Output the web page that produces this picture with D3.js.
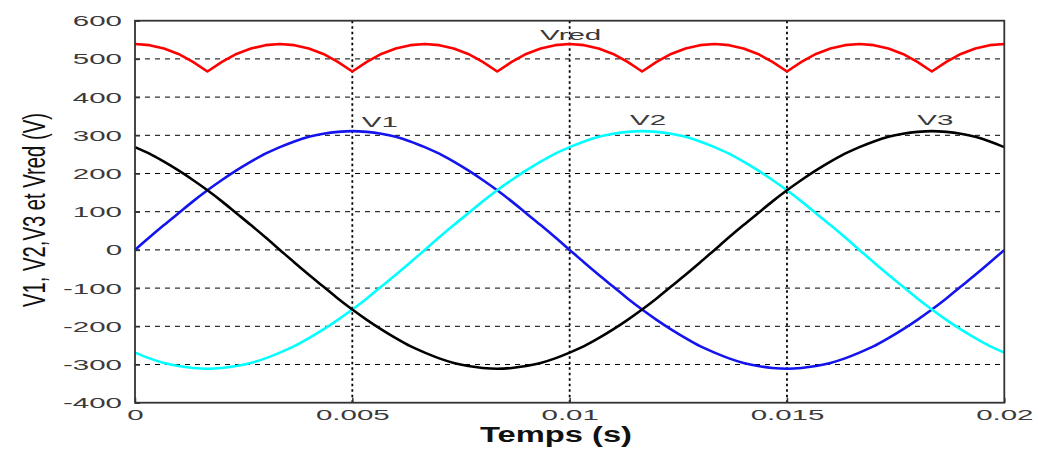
<!DOCTYPE html>
<html>
<head>
<meta charset="utf-8">
<script src="https://cdn.jsdelivr.net/npm/d3@7"></script>
<style>
  body { margin: 0; background: #fff; }
  text { font-family: "Liberation Sans", Arial, sans-serif; }
</style>
</head>
<body>
<svg width="1038" height="455"></svg>
<script>
// samples every 1/3000 s (6 degrees at 50 Hz), 0 .. 0.02 s
var step = 0.02 / 60;
var time = d3.range(61).map(function(k) { return k * step; });

var v1 = [0,33,65,96,127,156,183,208,231,252,269,284,296,304,309,311,309,304,296,284,
  269,252,231,208,183,156,127,96,65,33,0,-33,-65,-96,-127,-156,-183,-208,-231,-252,
  -269,-284,-296,-304,-309,-311,-309,-304,-296,-284,-269,-252,-231,-208,-183,-156,-127,-96,-65,-33,0];

var v2 = [-269,-284,-296,-304,-309,-311,-309,-304,-296,-284,-269,-252,-231,-208,-183,-156,-127,-96,-65,-33,
  0,33,65,96,127,156,183,208,231,252,269,284,296,304,309,311,309,304,296,284,
  269,252,231,208,183,156,127,96,65,33,0,-33,-65,-96,-127,-156,-183,-208,-231,-252,-269];

var v3 = [269,252,231,208,183,156,127,96,65,33,0,-33,-65,-96,-127,-156,-183,-208,-231,-252,
  -269,-284,-296,-304,-309,-311,-309,-304,-296,-284,-269,-252,-231,-208,-183,-156,-127,-96,-65,-33,
  0,33,65,96,127,156,183,208,231,252,269,284,296,304,309,311,309,304,296,284,269];

var vred = [539,536,527,513,492,467,492,513,527,536,
  539,536,527,513,492,467,492,513,527,536,
  539,536,527,513,492,467,492,513,527,536,
  539,536,527,513,492,467,492,513,527,536,
  539,536,527,513,492,467,492,513,527,536,
  539,536,527,513,492,467,492,513,527,536,539];

var xTicks = [0, 0.005, 0.01, 0.015, 0.02];
var yTicks = [-400, -300, -200, -100, 0, 100, 200, 300, 400, 500, 600];

var series = [
  {name: "V1", values: v1, color: "#1414ee", smooth: true},
  {name: "V2", values: v2, color: "#00ffff", smooth: true},
  {name: "V3", values: v3, color: "#000000", smooth: true},
  {name: "Vred", values: vred, color: "#ff0000", smooth: false}
];

// curve labels, placed in data units
var labels = [
  {text: "V1", t: 0.00522, v: 322},
  {text: "V2", t: 0.01139, v: 327},
  {text: "V3", t: 0.0180, v: 327},
  {text: "Vred", t: 0.00932, v: 549}
];

var svg = d3.select("svg"),
    margin = {top: 20.7, right: 33.7, bottom: 52.3, left: 135},
    width = +svg.attr("width") - margin.left - margin.right,
    height = +svg.attr("height") - margin.top - margin.bottom;

var g = svg.append("g").attr("transform", "translate(" + margin.left + "," + margin.top + ")");

var x = d3.scaleLinear().domain([0, 0.02]).range([0, width]);
var y = d3.scaleLinear().domain([-400, 600]).range([height, 0]);

// text in the picture is stretched horizontally about 2x
function stretch(sel, k) {
  sel.each(function() {
    var w = this.getComputedTextLength();
    d3.select(this).attr("textLength", w * k).attr("lengthAdjust", "spacingAndGlyphs");
  });
}

// grid
g.append("g").selectAll("line")
  .data(yTicks.filter(function(d) { return d > -400 && d < 600; }))
  .enter().append("line")
    .attr("x1", 0).attr("x2", width)
    .attr("y1", function(d) { return y(d); }).attr("y2", function(d) { return y(d); })
    .attr("stroke", "#000").attr("stroke-width", 1).attr("stroke-dasharray", "5,5");

g.append("g").selectAll("line")
  .data(xTicks.filter(function(d) { return d > 0 && d < 0.02; }))
  .enter().append("line")
    .attr("x1", function(d) { return x(d); }).attr("x2", function(d) { return x(d); })
    .attr("y1", 0).attr("y2", height)
    .attr("stroke", "#000").attr("stroke-width", 1.8).attr("stroke-dasharray", "2.5,3");

// lines
var line = d3.line()
  .x(function(d, i) { return x(time[i]); })
  .y(function(d) { return y(d); });

series.forEach(function(s) {
  g.append("path")
    .datum(s.values)
    .attr("fill", "none")
    .attr("stroke", s.color)
    .attr("stroke-width", 2.6)
    .attr("stroke-linejoin", "round")
    .attr("d", line.curve(s.smooth ? d3.curveMonotoneX : d3.curveLinear));
});

// axes
var xAxis = g.append("g")
  .attr("transform", "translate(0," + height + ")")
  .call(d3.axisBottom(x).tickValues(xTicks).tickFormat(d3.format("")).tickSizeInner(-5).tickSizeOuter(0).tickPadding(6));
var yAxis = g.append("g")
  .call(d3.axisLeft(y).tickValues(yTicks).tickSizeInner(-5).tickSizeOuter(0).tickPadding(13));

[xAxis, yAxis].forEach(function(a) {
  a.select(".domain").remove();
  a.selectAll(".tick line").attr("stroke", "#333").attr("stroke-width", 1.5);
});
yAxis.selectAll(".tick text").text(function(d) { return d < 0 ? "-" + Math.abs(d) : d; });
[xAxis, yAxis].forEach(function(a) {
  a.selectAll(".tick text")
    .attr("fill", "#3a3a3a")
    .style("font-size", "15.5px")
    .call(stretch, 1.9);
});

// box
g.append("rect")
  .attr("width", width).attr("height", height)
  .attr("fill", "none").attr("stroke", "#333").attr("stroke-width", 1.8);

// curve labels
g.selectAll(".lbl")
  .data(labels)
  .enter().append("text")
    .attr("class", "lbl")
    .attr("x", function(d) { return x(d.t); })
    .attr("y", function(d) { return y(d.v); })
    .attr("fill", "#3a3a3a")
    .style("font-size", "15.5px")
    .text(function(d) { return d.text; })
    .call(stretch, 1.9);

// axis titles
svg.append("text")
  .attr("x", 556).attr("y", 442)
  .attr("text-anchor", "middle")
  .attr("fill", "#111")
  .style("font-size", "22px").style("font-weight", "bold")
  .attr("textLength", 152).attr("lengthAdjust", "spacingAndGlyphs")
  .text("Temps (s)");

svg.append("text")
  .attr("transform", "translate(45,210) rotate(-90)")
  .attr("text-anchor", "middle")
  .attr("fill", "#111")
  .style("font-size", "32px")
  .attr("textLength", 194).attr("lengthAdjust", "spacingAndGlyphs")
  .text("V1, V2,V3 et Vred (V)");
</script>
</body>
</html>
